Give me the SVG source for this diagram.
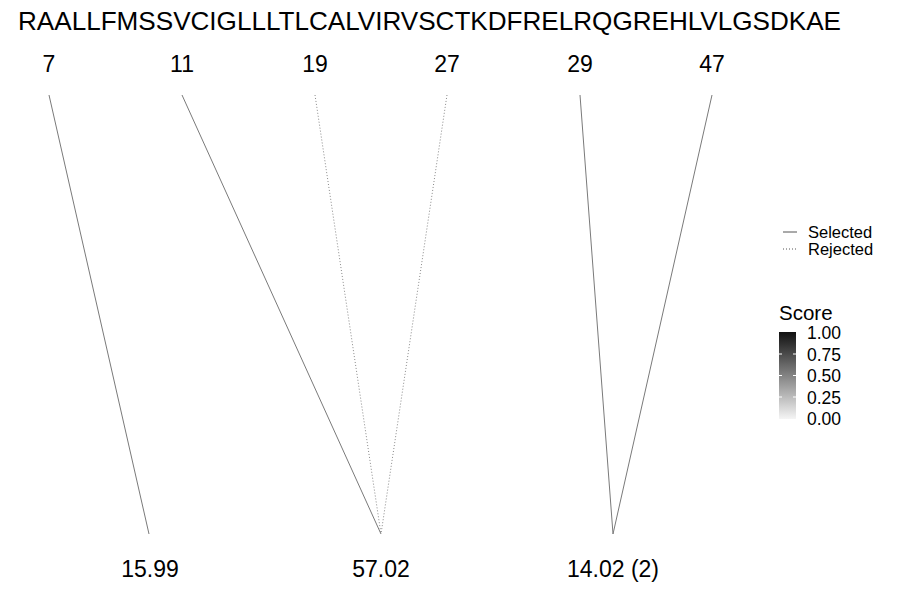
<svg xmlns="http://www.w3.org/2000/svg" width="900" height="600" viewBox="0 0 900 600">
<style>
text{font-family:"Liberation Sans",Arial,sans-serif;fill:#000}
.seq{font-size:25.5px}
.num{font-size:23px;text-anchor:middle}
.sel{stroke:#7a7a7a;stroke-width:1;fill:none}
.rej{stroke:#8a8a8a;stroke-width:1;stroke-dasharray:1,2;fill:none}
.leg{font-size:16.5px}
.tick{font-size:17.5px}
</style>
<defs>
<linearGradient id="g" x1="0" y1="1" x2="0" y2="0">
<stop offset="0" stop-color="#f5f5f5"/>
<stop offset="1" stop-color="#111"/>
</linearGradient>
</defs>
<rect width="900" height="600" fill="#fff"/>
<text class="seq" x="18" y="30" textLength="823" lengthAdjust="spacingAndGlyphs">RAALLFMSSVCIGLLLTLCALVIRVSCTKDFRELRQGREHLVLGSDKAE</text>
<g id="connectors">
<line class="sel" x1="49" y1="95" x2="149" y2="534"/>
<line class="sel" x1="182" y1="95" x2="381" y2="534"/>
<line class="rej" x1="315" y1="95" x2="381" y2="534"/>
<line class="rej" x1="447" y1="95" x2="381" y2="534"/>
<line class="sel" x1="580" y1="95" x2="613" y2="534"/>
<line class="sel" x1="712" y1="95" x2="613" y2="534"/>
</g>
<g id="n7"><text class="num" x="49" y="72">7</text></g>
<g id="n11"><text class="num" x="182" y="72">11</text></g>
<g id="n19"><text class="num" x="315" y="72">19</text></g>
<g id="n27"><text class="num" x="447" y="72">27</text></g>
<g id="n29"><text class="num" x="580" y="72">29</text></g>
<g id="n47"><text class="num" x="712" y="72">47</text></g>
<g id="m1"><text class="num" x="150" y="577">15.99</text></g>
<g id="m2"><text class="num" x="381" y="577">57.02</text></g>
<g id="m3"><text class="num" x="613" y="577">14.02 (2)</text></g>
<g id="legend">
<line x1="783" y1="232" x2="797" y2="232" stroke="#555" stroke-width="1"/>
<text class="leg" x="808" y="237.5">Selected</text>
<line x1="783" y1="249" x2="797" y2="249" stroke="#555" stroke-width="1" stroke-dasharray="1,2"/>
<text class="leg" x="808" y="255">Rejected</text>
<text x="779" y="320" font-size="20.5">Score</text>
<rect x="779" y="332" width="17" height="87" fill="url(#g)"/>
<g stroke="#fff" stroke-width="1">
<line x1="779" y1="354" x2="782" y2="354"/><line x1="793" y1="354" x2="796" y2="354"/>
<line x1="779" y1="375.5" x2="782" y2="375.5"/><line x1="793" y1="375.5" x2="796" y2="375.5"/>
<line x1="779" y1="397" x2="782" y2="397"/><line x1="793" y1="397" x2="796" y2="397"/>
</g>
<text class="tick" x="807" y="339">1.00</text>
<text class="tick" x="807" y="361">0.75</text>
<text class="tick" x="807" y="382">0.50</text>
<text class="tick" x="807" y="404">0.25</text>
<text class="tick" x="807" y="425">0.00</text>
</g>
</svg>
